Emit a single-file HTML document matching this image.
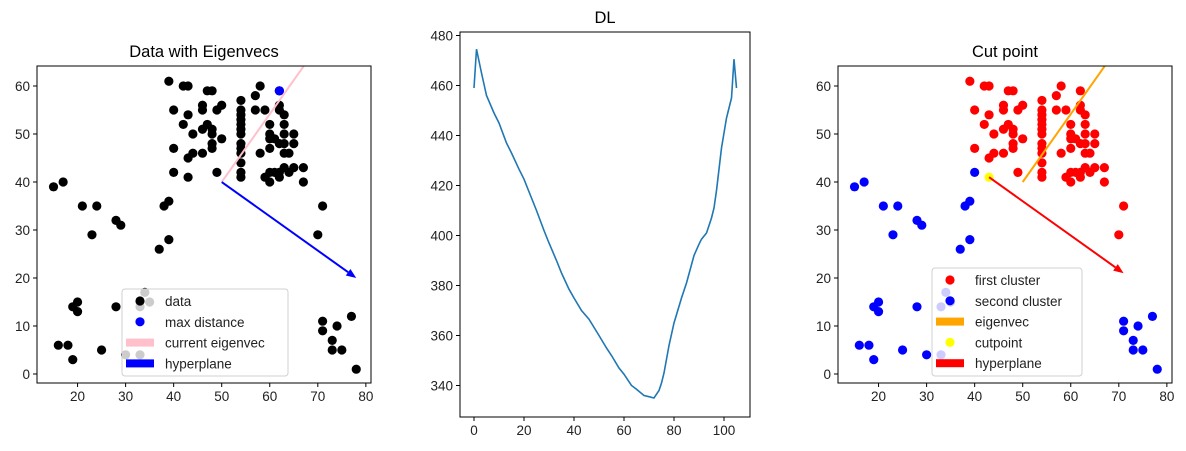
<!DOCTYPE html>
<html><head><meta charset="utf-8"><style>
html,body{margin:0;padding:0;background:#fff;}
svg{display:block;font-family:"Liberation Sans","DejaVu Sans",sans-serif;}
</style></head><body>
<svg id="fig" width="1186" height="451" viewBox="0 0 1186 451" xmlns="http://www.w3.org/2000/svg"></svg>
<script>
// ---- data ----
const firstClusterX = [39,42,43,47,48,40,43,46,46,49,50,42,44,47,46,48,48,40,44,43,46,48,48,50,49,54,54,54,54,54,54,54,54,54,54,54,54,54,57,58,57,59,62,62,62,63,60,63,60,60,61,62,63,63,65,65,63,64,58,60,59,60,60,61,62,62,63,64,65,67,67,71,70];
const firstClusterY = [61,60,60,59,59,55,54,56,55,55,56,52,50,52,51,51,50,47,46,45,46,48,47,49,42,57,55,54,53,52,51,50,48,47,46,44,42,41,58,60,55,55,59,56,55,54,52,52,50,49,49,48,48,50,50,48,46,46,46,47,41,40,42,42,42,41,43,42,43,43,40,35,29];
const secondClusterX = [15,17,21,24,23,28,29,38,39,37,39,40,19,20,20,28,34,33,35,16,18,19,25,30,33,71,71,74,73,73,75,77,78];
const secondClusterY = [39,40,35,35,29,32,31,35,36,26,28,42,14,15,13,14,17,14,15,6,6,3,5,4,4,11,9,10,7,5,5,12,1];
const cutPoint = [43,41];
const maxDistPoint = [62,59];
const eigenStart = [50,40], eigenEnd = [70,68.3];
const hyperLeft = [[50,40],[78,20]];
const hyperRight = [[43,41],[71,21]];
const dlX = [0,1,3,5,8,10,13,15,18,20,23,25,28,30,33,35,38,40,43,46,50,53,55,58,60,63,65,68,70,72,73,74,75,76,78,80,83,85,88,90,91,93,95,96,97,99,101,102,103,104,105];
const dlY = [459,474.5,465,456,449,445,437,433,426.5,422.5,415,410,402,397,390,385,378.5,375,370,366.5,360,355,352,347,344.5,340,338.5,336,335.5,335,336.5,338,341,345,356,365,375,381,392,396.5,398.5,401,407,411,418,435,447,451,455,470.5,459];
const scatterTicks = [0,10,20,30,40,50,60];
const scatterXTicks = [20,30,40,50,60,70,80];
const dlXTicks = [0,20,40,60,80,100];
const dlYTicks = [340,360,380,400,420,440,460,480];

const NS = "http://www.w3.org/2000/svg";
const svg = document.getElementById('fig');
function el(tag, attrs, parent){const e=document.createElementNS(NS,tag);for(const k in attrs)e.setAttribute(k,attrs[k]);(parent||svg).appendChild(e);return e;}
function txt(s, attrs, parent){const t=el('text',attrs,parent);t.textContent=s;return t;}

function makeAxes(box, xdom, ydom, name){
  const sx = v => box.x0 + (v - xdom[0])/(xdom[1]-xdom[0])*(box.x1-box.x0);
  const sy = v => box.y1 - (v - ydom[0])/(ydom[1]-ydom[0])*(box.y1-box.y0);
  const g = el('g',{});
  
  
  const clipId = name + '-clip';
  const cp = el('clipPath',{id:clipId},g);
  el('rect',{x:box.x0,y:box.y0,width:box.x1-box.x0,height:box.y1-box.y0},cp);
  const plot = el('g',{'clip-path':'url(#'+clipId+')'},g);
  
  
  return {sx, sy, g, plot, box};
}
function frame(ax){
  const f = el('rect',{x:ax.box.x0,y:ax.box.y0,width:ax.box.x1-ax.box.x0,height:ax.box.y1-ax.box.y0,fill:'none',stroke:'#000','stroke-width':1},ax.g);
  
  
}
function ticks(ax, xt, yt){
  xt.forEach(v=>{const x=ax.sx(v);
    el('line',{x1:x,x2:x,y1:ax.box.y1,y2:ax.box.y1+4,stroke:'#000'},ax.g);
    const t=txt(String(v),{x:x,y:ax.box.y1+18,'font-size':13.5,'text-anchor':'middle',fill:'#222'},ax.g);
    
    
  });
  yt.forEach(v=>{const y=ax.sy(v);
    el('line',{x1:ax.box.x0-4,x2:ax.box.x0,y1:y,y2:y,stroke:'#000'},ax.g);
    const t=txt(String(v),{x:ax.box.x0-7,y:y+5,'font-size':13.5,'text-anchor':'end',fill:'#222'},ax.g);
    
    
  });
}
function dot(ax, x, y, color, nm){
  const c = el('circle',{cx:ax.sx(x),cy:ax.sy(y),r:4.6,fill:color},ax.plot);
  
  
}
function arrow(ax, p, color, nm){
  const x1=ax.sx(p[0][0]),y1=ax.sy(p[0][1]),x2=ax.sx(p[1][0]),y2=ax.sy(p[1][1]);
  const g = el('g',{},ax.plot);
  
  
  const dx=x2-x1,dy=y2-y1,L=Math.hypot(dx,dy),ux=dx/L,uy=dy/L;
  const hl=10,hw=4;
  const bx=x2-ux*hl,by=y2-uy*hl;
  el('line',{x1:x1,y1:y1,x2:bx,y2:by,stroke:color,'stroke-width':2},g);
  el('polygon',{points:`${x2},${y2} ${bx-uy*hw},${by+ux*hw} ${bx+uy*hw},${by-ux*hw}`,fill:color},g);
}
function legend(ax, b, items){
  const g = el('g',{},ax.g);
  
  
  el('rect',{x:b.x,y:b.y,width:b.w,height:b.h,rx:3,fill:'rgba(255,255,255,0.8)',stroke:'#d0d0d0'},g);
  items.forEach((it,i)=>{
    const y=b.y+12+i*20.8;
    const e = el('g',{},g);
    
    
    if(it.type==='dot') el('circle',{cx:b.mx,cy:y,r:4.6,fill:it.color},e);
    else el('rect',{x:b.mx-14,y:y-4,width:28,height:8,fill:it.color},e);
    txt(it.label,{x:b.tx,y:y+5,'font-size':13.5,fill:'#222'},e);
  });
}

// ---- left: Data with Eigenvecs ----
const A = makeAxes({x0:37,x1:371,y0:66,y1:383},[11.56,81.07],[-1.875,64.17],'eigenvecs-axes');
A.plot.appendChild(document.createComment('points'));
firstClusterX.forEach((x,i)=>dot(A,x,firstClusterY[i],'#000','data-point'));
secondClusterX.forEach((x,i)=>dot(A,x,secondClusterY[i],'#000','data-point'));
dot(A,cutPoint[0],cutPoint[1],'#000','data-point');
dot(A,maxDistPoint[0],maxDistPoint[1],'#0000ff','max-distance-point');
let ln = el('line',{x1:A.sx(eigenStart[0]),y1:A.sy(eigenStart[1]),x2:A.sx(eigenEnd[0]),y2:A.sy(eigenEnd[1]),stroke:'#ffc0cb','stroke-width':2},A.plot);


arrow(A,hyperLeft,'#0000ff','hyperplane-arrow');
frame(A); ticks(A,scatterXTicks,scatterTicks);
let t1=txt('Data with Eigenvecs',{x:(37+371)/2,y:57,'font-size':16.5,'text-anchor':'middle',fill:'#000'});


legend(A,{x:122,y:289,w:166,h:87,mx:140,tx:165},[
  {type:'dot',color:'#000',label:'data'},
  {type:'dot',color:'#0000ff',label:'max distance'},
  {type:'rect',color:'#ffc0cb',label:'current eigenvec'},
  {type:'rect',color:'#0000ff',label:'hyperplane'}]);

// ---- middle: DL ----
const B = makeAxes({x0:460,x1:750,y0:32,y1:417},[-5.6,110.4],[327.4,481.4],'dl-axes');
const path = dlX.map((x,i)=>(i?'L':'M')+B.sx(x).toFixed(1)+','+B.sy(dlY[i]).toFixed(1)).join(' ');
let pl = el('path',{d:path,fill:'none',stroke:'#1f77b4','stroke-width':1.6},B.plot);


frame(B); ticks(B,dlXTicks,dlYTicks);
let t2=txt('DL',{x:(460+750)/2,y:23,'font-size':16.5,'text-anchor':'middle',fill:'#000'});



// ---- right: Cut point ----
const C = makeAxes({x0:838,x1:1172,y0:66,y1:383},[11.56,81.07],[-1.875,64.17],'cut-point-axes');
firstClusterX.forEach((x,i)=>dot(C,x,firstClusterY[i],'#ff0000','first-cluster-point'));
secondClusterX.forEach((x,i)=>dot(C,x,secondClusterY[i],'#0000ff','second-cluster-point'));
let ln2 = el('line',{x1:C.sx(eigenStart[0]),y1:C.sy(eigenStart[1]),x2:C.sx(eigenEnd[0]),y2:C.sy(eigenEnd[1]),stroke:'#ffa500','stroke-width':2},C.plot);


dot(C,cutPoint[0],cutPoint[1],'#ffff00','cutpoint');
arrow(C,hyperRight,'#ff0000','hyperplane-arrow');
frame(C); ticks(C,scatterXTicks,scatterTicks);
let t3=txt('Cut point',{x:(838+1172)/2,y:57,'font-size':16.5,'text-anchor':'middle',fill:'#000'});


legend(C,{x:932,y:268,w:150,h:108,mx:950,tx:975},[
  {type:'dot',color:'#ff0000',label:'first cluster'},
  {type:'dot',color:'#0000ff',label:'second cluster'},
  {type:'rect',color:'#ffa500',label:'eigenvec'},
  {type:'dot',color:'#ffff00',label:'cutpoint'},
  {type:'rect',color:'#ff0000',label:'hyperplane'}]);
</script>
</body></html>
